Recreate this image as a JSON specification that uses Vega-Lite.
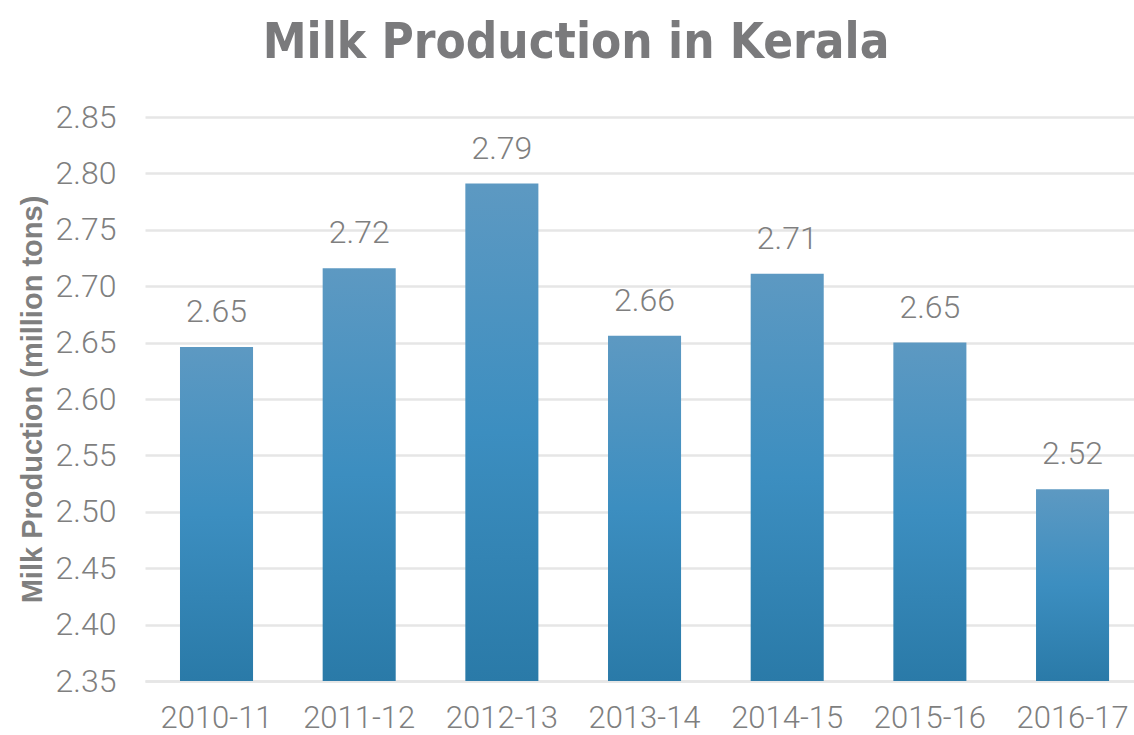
{
  "$schema": "https://vega.github.io/schema/vega-lite/v6.json",
  "autosize": {"type": "none"},
  "padding": {"left": 145, "top": 117, "right": 0, "bottom": 54},
  "width": 989,
  "height": 564,
  "background": "white",
  "title": {
    "text": "Milk Production in Kerala",
    "anchor": "middle",
    "frame": "bounds",
    "font": "DejaVu Sans Condensed, Liberation Sans",
    "fontSize": 49,
    "fontWeight": "bold",
    "color": "#7a7a7c",
    "offset": 33
  },
  "data": {
    "values": [
      {"year": "2010-11", "production": 2.646},
      {"year": "2011-12", "production": 2.716},
      {"year": "2012-13", "production": 2.791},
      {"year": "2013-14", "production": 2.656},
      {"year": "2014-15", "production": 2.711},
      {"year": "2015-16", "production": 2.650},
      {"year": "2016-17", "production": 2.520}
    ]
  },
  "config": {
    "view": {"stroke": null},
    "axis": {
      "labelFont": "Roboto",
      "labelFontWeight": 300,
      "labelFontSize": 31,
      "labelColor": "#7f7f7f",
      "ticks": false,
      "tickSize": 0,
      "gridColor": "#e6e6e6",
      "gridWidth": 2.5,
      "domainColor": "#e6e6e6",
      "domainWidth": 2.5
    }
  },
  "encoding": {
    "x": {
      "field": "year",
      "type": "nominal",
      "sort": null,
      "scale": {"paddingInner": 0.488, "paddingOuter": 0.21, "align": 0.584},
      "axis": {"title": null, "labelAngle": 0, "labelPadding": 22, "grid": false, "domain": true}
    },
    "y": {
      "field": "production",
      "type": "quantitative",
      "scale": {"domain": [2.35, 2.85], "zero": false, "nice": false, "clamp": true},
      "axis": {
        "title": "Milk Production (million tons)",
        "titleFont": "Liberation Sans",
        "titleFontSize": 29,
        "titleFontWeight": "bold",
        "titleColor": "#7f7f7f",
        "titlePadding": 8,
        "values": [2.35, 2.4, 2.45, 2.5, 2.55, 2.6, 2.65, 2.7, 2.75, 2.8, 2.85],
        "format": ".2f",
        "labelFontSize": 32,
        "labelPadding": 29,
        "domain": false,
        "grid": true
      }
    }
  },
  "layer": [
    {
      "mark": {
        "type": "bar",
        "clip": true,
        "color": {
          "gradient": "linear",
          "x1": 0, "y1": 0, "x2": 0, "y2": 1,
          "stops": [
            {"offset": 0, "color": "#5d99c2"},
            {"offset": 0.5, "color": "#3c8ec0"},
            {"offset": 1, "color": "#2a7aa8"}
          ]
        }
      }
    },
    {
      "mark": {
        "type": "text",
        "baseline": "alphabetic",
        "dy": -25,
        "font": "Roboto",
        "fontWeight": 300,
        "fontSize": 32,
        "color": "#7f7f7f"
      },
      "encoding": {
        "text": {"field": "production", "type": "quantitative", "format": ".2f"}
      }
    }
  ]
}
